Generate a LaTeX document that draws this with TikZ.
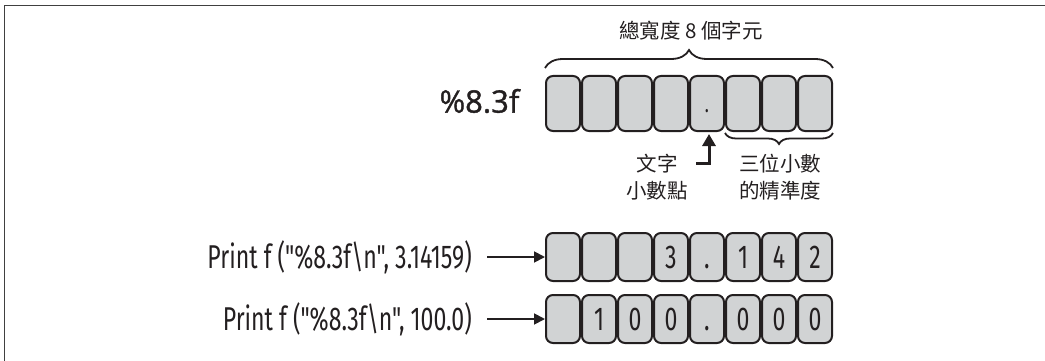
\documentclass[tikz,border=0pt]{standalone}
\usepackage{fontspec}
\usetikzlibrary{arrows.meta,decorations.pathreplacing}
\newfontfamily\cjk{Noto Sans CJK TC}
\newfontfamily\cond[FakeStretch=0.70]{Fira Sans}
\newfontfamily\wide[FakeBold=1.2]{Open Sans}
\definecolor{ink}{HTML}{231F20}
\definecolor{boxgray}{HTML}{D1D3D4}
\definecolor{framec}{HTML}{404040}
\tikzset{
  cellbox/.style={draw=ink, line width=2pt, fill=boxgray, rounded corners=7pt,
    minimum width=34pt, minimum height=48pt, inner sep=0pt, text=ink,
    text height=23pt, text depth=0pt,
    font=\cond\fontsize{33}{33}\selectfont},
  topcell/.style={cellbox, minimum height=55pt, text height=18pt,
    font=\cond\fontsize{24}{24}\selectfont},
  cjklabel/.style={text=ink, font=\cjk\fontsize{20.5}{27}\selectfont, align=center, inner sep=0pt},
  codelabel/.style={text=ink, font=\cond\fontsize{33}{33}\selectfont, inner xsep=15pt, inner ysep=0pt, anchor=east},
  parrow/.style={draw=ink, line width=1.8pt, -{Triangle[length=11pt,width=11pt]}},
  bracestyle/.style={draw=ink, line width=1.8pt, decorate},
}
\begin{document}
\begin{tikzpicture}[x=1pt,y=-1pt]
\useasboundingbox (0,0) rectangle (1045,361);
\draw[framec, line width=1.6pt] (4.5,361) -- (4.5,5.5) -- (1045,5.5);
% top row
\foreach \d [count=\i from 0] in {{},{},{},{},.,{},{},{}}
  \node[topcell] (t\i) at (563+36*\i,103.5) {\d};
\node[text=ink, font=\wide\fontsize{31}{31}\selectfont, inner sep=0pt] (fmt) at (479.5,101) {\%8.3f};
\draw[bracestyle, decoration={brace, amplitude=18pt}] ([yshift=7pt]t0.north west) -- ([yshift=7pt]t7.north east);
\node[cjklabel] (title) at (691,31) {總寬度 8 個字元};
\draw[bracestyle, decoration={brace, amplitude=11pt}] ([yshift=-1pt]t7.south east) -- ([yshift=-1pt]t5.south west);
\node[cjklabel] (prec) at (780,177) {三位小數\\的精準度};
\node[cjklabel] (lit) at (657,177) {文字\\小數點};
\coordinate (ac) at (696,163);
\draw[draw=ink, line width=3pt, -{Triangle[length=12pt,width=13pt]}] (ac) -| ([xshift=2pt,yshift=-2pt]t4.south);
% bottom rows
\foreach \d [count=\i from 0] in {{},{},{},3,.,1,4,2}
  \node[cellbox] (a\i) at (563+36*\i,257) {\d};
\foreach \d [count=\i from 0] in {{},1,0,0,.,0,0,0}
  \node[cellbox] (b\i) at (563+36*\i,319) {\d};
\node[codelabel] (p1) at (487,257) {Print f ("\%8.3f\textbackslash n", 3.14159)};
\node[codelabel] (p2) at (487,319) {Print f ("\%8.3f\textbackslash n", 100.0)};
\draw[parrow] (p1.east) -- (a0.west);
\draw[parrow] (p2.east) -- (b0.west);
\end{tikzpicture}
\end{document}
